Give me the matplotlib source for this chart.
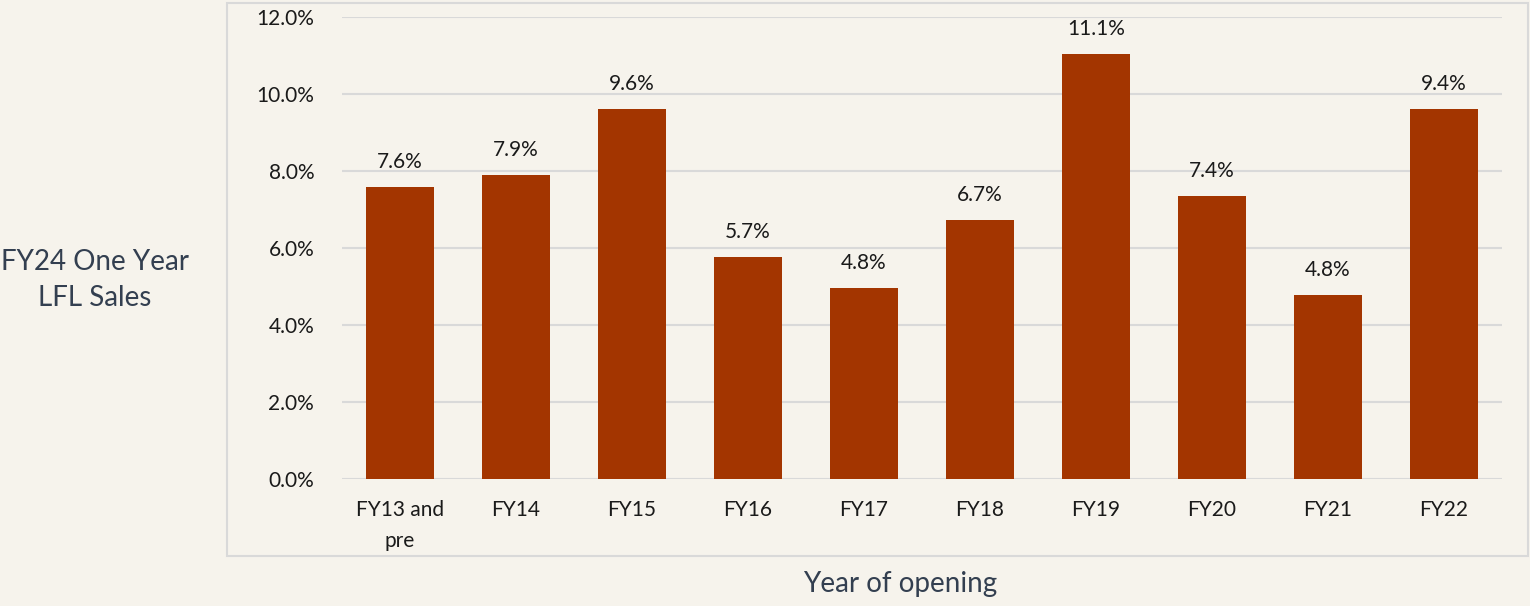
import matplotlib.pyplot as plt
from matplotlib.patches import Rectangle

# data
categories = ["FY13 and\npre", "FY14", "FY15", "FY16", "FY17", "FY18", "FY19", "FY20", "FY21", "FY22"]
bar_values = [7.58, 7.90, 9.61, 5.77, 4.96, 6.73, 11.04, 7.35, 4.78, 9.61]
bar_labels = ["7.6%", "7.9%", "9.6%", "5.7%", "4.8%", "6.7%", "11.1%", "7.4%", "4.8%", "9.4%"]
yticks = [0, 2, 4, 6, 8, 10, 12]

bg = "#F6F3EC"
bar_color = "#A33500"
grid_color = "#D9D9D9"
text_color = "#1A1A1A"
title_color = "#333F50"

plt.rcParams["font.family"] = ["Lato", "DejaVu Sans"]

fig = plt.figure(figsize=(15.3, 6.06), dpi=100, facecolor=bg)
ax = fig.add_axes([342 / 1530, 1 - 479 / 606, (1502 - 342) / 1530, (479 - 17) / 606])
ax.set_facecolor(bg)

# outer frame of the chart area
fig.patches.append(Rectangle((227 / 1530, 1 - 556 / 606), (1528 - 227) / 1530, (556 - 3) / 606,
                             transform=fig.transFigure, fill=False, edgecolor=grid_color, linewidth=1.5))

x = range(len(categories))
bars = ax.bar(x, bar_values, width=0.59, color=bar_color, zorder=3)
for b, lab in zip(bars, bar_labels):
    ax.annotate(lab, (b.get_x() + b.get_width() / 2, b.get_height()), xytext=(0, 11),
                textcoords="offset points", ha="center", va="bottom", fontsize=15, color=text_color)

ax.set_xlim(-0.5, len(categories) - 0.5)
ax.set_ylim(0, 12)
ax.set_yticks(yticks)
ax.set_yticklabels([f"{v:.1f}%" for v in yticks])
ax.set_xticks(list(x))
ax.set_xticklabels(categories, linespacing=1.7)
ax.tick_params(axis="both", length=0, labelsize=15, labelcolor=text_color)
ax.tick_params(axis="y", pad=20)
ax.tick_params(axis="x", pad=15)
ax.grid(axis="y", color=grid_color, linewidth=1.5, zorder=0)
for s in ax.spines.values():
    s.set_visible(False)

fig.text(95 / 1530, 1 - 280 / 606, "FY24 One Year\nLFL Sales", ha="center", va="center",
         fontsize=20, color=title_color, linespacing=1.5)
fig.text(900 / 1530, 1 - 584 / 606, "Year of opening", ha="center", va="center",
         fontsize=20, color=title_color)

fig.savefig("out.png", dpi=100, facecolor=bg)
